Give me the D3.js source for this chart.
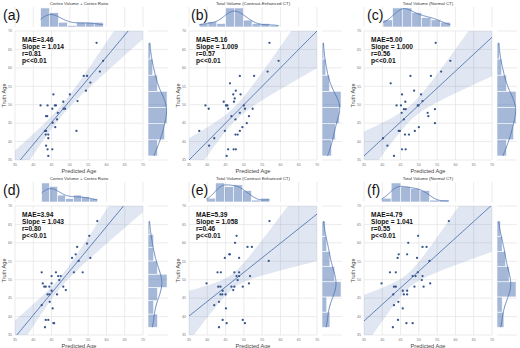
<!DOCTYPE html>
<html>
<head>
<meta charset="utf-8">
<script src="https://cdn.jsdelivr.net/npm/d3@7"></script>
<style>
body { margin: 0; background: #fff; }
svg { display: block; font-family: 'Liberation Sans', Arial, sans-serif; }
</style>
</head>
<body>
<svg></svg>
<script>
var WIDTH = 520;
var HEIGHT = 348;

// predicted age (x) and truth age (y), one pair of arrays per panel
var predA = [57.3,59.1,58.2,53.8,54.7,55.6,54.4,45.5,50.0,48.2,52.1,42.0,43.9,45.9,46.2,45.2,48.3,48.7,46.7,43.5,43.8,46.5,45.3,46.0,43.2,43.5,43.4,44.1,51.8,44.1,43.5,43.9,45.2,44.1];
var truthA = [66.8,61.9,59.0,57.8,57.8,56.0,53.8,52.8,52.8,50.8,51.0,49.8,49.8,49.8,49.8,48.9,48.9,48.9,47.8,46.9,46.9,46.0,45.1,43.9,42.9,42.9,41.9,41.9,42.9,40.9,38.9,37.9,37.9,36.1];

var predB = [57.0,59.5,56.5,48.9,52.8,46.2,47.8,47.1,49.1,47.5,44.5,47.3,39.5,45.1,45.3,45.5,50.0,40.4,45.7,50.3,52.4,48.9,46.6,51.4,47.7,50.8,49.6,37.8,44.8,48.9,47.7,48.3,41.9,40.5,45.7,47.2,47.8,45.3];
var truthB = [66.8,61.9,59.0,57.8,57.8,55.8,53.8,52.8,52.8,51.7,50.8,50.8,49.8,49.8,49.8,49.8,49.8,48.9,48.9,48.9,48.9,47.8,46.9,46.9,46.0,45.0,43.9,42.9,42.9,42.9,41.9,41.9,40.9,38.9,37.9,37.9,37.9,36.1];

var predC = [54.6,58.6,56.1,47.7,53.3,42.3,48.7,45.4,50.6,46.3,51.0,43.9,45.1,45.9,46.4,49.7,49.9,54.4,45.3,52.4,52.6,45.9,54.4,50.0,44.5,44.8,48.9,46.2,47.3,40.2,41.4,45.4,46.4,43.2];
var truthC = [66.8,61.9,59.0,57.8,57.8,55.8,53.8,52.8,52.8,50.8,51.0,49.8,49.8,48.8,48.8,49.8,49.8,48.8,47.8,47.8,46.9,46.0,45.0,43.9,42.9,42.9,42.9,41.9,41.9,40.9,38.9,37.9,37.9,36.1];

var predD = [57.5,55.3,54.7,52.0,51.6,50.6,55.6,52.4,51.1,53.5,42.3,46.2,45.0,46.8,47.5,42.6,43.0,43.4,44.4,45.0,47.1,48.2,48.9,43.9,44.4,46.5,45.0,44.5,42.3,45.3,43.4,44.1,45.5,45.7,43.2];
var truthD = [65.9,61.9,59.8,58.9,56.9,55.9,55.9,55.1,52.0,52.0,52.0,52.0,51.0,51.0,51.0,49.0,48.1,48.1,48.1,49.0,49.9,48.1,47.2,46.0,46.0,46.0,47.0,44.0,43.1,42.2,39.1,39.1,38.2,38.2,37.1];

var predE = [57.0,48.0,47.6,51.0,52.2,46.0,46.2,44.8,48.7,56.8,42.8,43.7,47.4,48.7,48.0,48.7,51.7,48.3,39.8,51.4,43.0,43.6,46.6,47.4,49.7,44.2,43.6,44.1,45.0,47.1,43.2,41.9,45.1,44.2,49.7,45.3,50.3,43.2];
var truthE = [65.9,61.9,60.0,58.9,58.9,56.9,56.9,55.9,55.9,55.1,52.0,52.0,52.0,52.0,51.0,51.0,51.0,49.9,49.0,49.0,48.1,48.1,48.1,48.1,48.1,47.0,46.0,46.0,46.0,47.2,44.0,43.1,42.2,39.1,39.1,38.2,38.2,37.1];

var predF = [58.2,49.8,47.1,51.0,52.1,44.5,46.8,44.2,49.5,52.9,42.1,43.7,49.7,51.0,48.3,49.1,50.8,39.8,53.1,43.2,43.7,48.8,51.3,45.6,46.8,45.9,46.8,43.0,44.4,43.2,45.6,44.3,46.6,48.3,42.9];
var truthF = [65.9,61.9,60.0,58.9,58.9,56.9,56.9,55.9,55.9,55.1,52.0,52.0,52.0,51.0,51.0,51.0,49.9,49.0,49.0,48.1,48.1,48.1,48.1,47.0,47.0,46.0,46.0,46.0,44.0,43.1,42.2,39.1,38.2,38.2,37.1];

// fitted regression line (truth = a + b * predicted)
var fitIntercept = [-8.2, 0.0, 3.9, -7.6, 12.5, 7.3];
var fitSlope = [1.186, 1.0, 0.92, 1.20, 0.79, 0.90];

var panelLabels = ['(a)', '(b)', '(c)', '(d)', '(e)', '(f)'];
var titles = ['Cortex Volume + Cortex Ratio', 'Total Volume (Contrast-Enhanced CT)', 'Total Volume (Normal CT)',
              'Cortex Volume + Cortex Ratio', 'Total Volume (Contrast Enhanced CT)', 'Total Volume (Normal CT)'];
var maes = ['3.46', '5.16', '5.00', '3.94', '5.39', '4.79'];
var slopes = ['1.014', '1.009', '1.000', '1.043', '1.058', '1.041'];
var rs = ['0.81', '0.57', '0.56', '0.80', '0.46', '0.55'];
var ticks = [35, 40, 45, 50, 55, 60, 65, 70];

var preds = [predA, predB, predC, predD, predE, predF];
var truths = [truthA, truthB, truthC, truthD, truthE, truthF];

var COL_X = [15, 189, 364];
var ROW_Y = [31, 206];
var LABEL_X = [3, 191, 367];
var PW = 128, PH = 129;
var BLUE = '#4c72b0';

var svg = d3.select('svg')
    .attr('width', WIDTH)
    .attr('height', HEIGHT);

// numpy 'auto' style bins
function autoBins(values) {
    var s = values.slice().sort(d3.ascending);
    var n = s.length;
    var lo = s[0], hi = s[n - 1];
    var sturges = (hi - lo) / (Math.log2(n) + 1);
    var iqr = d3.quantileSorted(s, 0.75) - d3.quantileSorted(s, 0.25);
    var fd = 2 * iqr * Math.pow(n, -1 / 3);
    var w = fd > 0 ? Math.min(fd, sturges) : sturges;
    var nb = Math.max(1, Math.ceil((hi - lo) / w));
    w = (hi - lo) / nb;
    var bins = d3.range(nb).map(function(k) {
        return {x0: lo + k * w, x1: lo + (k + 1) * w, count: 0};
    });
    values.forEach(function(v) {
        var k = Math.min(nb - 1, Math.floor((v - lo) / w));
        bins[k].count++;
    });
    return bins;
}

// gaussian kde (scott), scaled to counts
function kdeCurve(values, binWidth) {
    var n = values.length;
    var bw = d3.deviation(values) * Math.pow(n, -0.2);
    var lo = d3.min(values), hi = d3.max(values);
    return d3.range(0, 101).map(function(k) {
        var x = lo + (hi - lo) * k / 100;
        var dens = d3.sum(values, function(v) {
            var u = (x - v) / bw;
            return Math.exp(-0.5 * u * u);
        }) / (n * bw * Math.sqrt(2 * Math.PI));
        return [x, dens * n * binWidth];
    });
}

function drawPanel(i) {
    var xs = preds[i], ys = truths[i];
    var ox = COL_X[i % 3], oy = ROW_Y[Math.floor(i / 3)];
    var g = svg.append('g');

    var xScale = d3.scaleLinear().domain([35, 70]).range([ox, ox + PW]);
    var yScale = d3.scaleLinear().domain([35, 70]).range([oy + PH, oy]);

    // grid
    g.selectAll('.vg').data(ticks).enter().append('line')
        .attr('x1', function(d) { return xScale(d); })
        .attr('x2', function(d) { return xScale(d); })
        .attr('y1', oy).attr('y2', oy + PH)
        .attr('stroke', '#e3e3e3').attr('stroke-width', 0.7);
    g.selectAll('.hg').data(ticks).enter().append('line')
        .attr('y1', function(d) { return yScale(d); })
        .attr('y2', function(d) { return yScale(d); })
        .attr('x1', ox).attr('x2', ox + PW)
        .attr('stroke', '#e3e3e3').attr('stroke-width', 0.7);

    // tick labels
    g.selectAll('.xt').data(ticks).enter().append('text')
        .attr('x', function(d) { return xScale(d); })
        .attr('y', oy + PH + 6)
        .attr('text-anchor', 'middle')
        .attr('font-size', 3.6).attr('fill', '#777')
        .text(function(d) { return d; });
    g.selectAll('.yt').data(ticks).enter().append('text')
        .attr('x', ox - 3)
        .attr('y', function(d) { return yScale(d) + 1.3; })
        .attr('text-anchor', 'end')
        .attr('font-size', 3.6).attr('fill', '#777')
        .text(function(d) { return d; });

    // regression line with 95% ci band
    var n = xs.length;
    var a = fitIntercept[i], b = fitSlope[i];
    var mx = d3.mean(xs);
    var sxx = d3.sum(xs, function(v) { return (v - mx) * (v - mx); });
    var sse = d3.sum(xs, function(v, k) { var e = ys[k] - a - b * v; return e * e; });
    var se = Math.sqrt(sse / (n - 2));
    var grid = d3.range(35, 70.01, 0.5).map(function(x) {
        var h = 2.03 * se * Math.sqrt(1 / n + (x - mx) * (x - mx) / sxx);
        var yh = a + b * x;
        return {x: x, y: yh, lo: yh - h, hi: yh + h};
    });

    var clipId = 'clip' + i;
    svg.append('clipPath').attr('id', clipId)
        .append('rect').attr('x', ox).attr('y', oy).attr('width', PW).attr('height', PH);
    var inner = g.append('g').attr('clip-path', 'url(#' + clipId + ')');
    inner.append('path')
        .datum(grid)
        .attr('d', d3.area()
            .x(function(d) { return xScale(d.x); })
            .y0(function(d) { return yScale(d.lo); })
            .y1(function(d) { return yScale(d.hi); }))
        .attr('fill', BLUE).attr('fill-opacity', 0.17);
    inner.append('path')
        .datum(grid)
        .attr('d', d3.line()
            .x(function(d) { return xScale(d.x); })
            .y(function(d) { return yScale(d.y); }))
        .attr('fill', 'none').attr('stroke', BLUE).attr('stroke-width', 0.9);

    inner.selectAll('circle').data(xs).enter().append('circle')
        .attr('cx', function(d) { return xScale(d); })
        .attr('cy', function(d, k) { return yScale(ys[k]); })
        .attr('r', 1.15)
        .attr('fill', '#37568c');

    // stats text
    var lines = ['MAE=' + maes[i], 'Slope = ' + slopes[i], 'r=' + rs[i], 'p<<0.01'];
    g.selectAll('.st').data(lines).enter().append('text')
        .attr('x', ox + 7)
        .attr('y', function(d, k) { return oy + 11 + k * 6.9; })
        .attr('font-size', 6.6).attr('font-weight', 'bold').attr('fill', '#111')
        .text(function(d) { return d; });

    // axis labels
    g.append('text')
        .attr('x', ox + PW / 2).attr('y', oy + PH + 13)
        .attr('text-anchor', 'middle')
        .attr('font-size', 5.6).attr('fill', '#444')
        .text('Predicted Age');
    g.append('text')
        .attr('transform', 'translate(' + (ox - 9) + ',' + (oy + PH / 2) + ') rotate(-90)')
        .attr('text-anchor', 'middle')
        .attr('font-size', 5.6).attr('fill', '#444')
        .text('Truth Age');

    // top marginal histogram
    var topY0 = oy - 24, topH = 20;
    var binsX = autoBins(xs);
    var bwX = binsX[0].x1 - binsX[0].x0;
    var kdeX = kdeCurve(xs, bwX);
    var cMaxX = Math.max(d3.max(binsX, function(d) { return d.count; }), d3.max(kdeX, function(d) { return d[1]; }));
    var hScale = d3.scaleLinear().domain([0, cMaxX * 1.05]).range([topY0 + topH, topY0]);
    g.selectAll('.tg').data(ticks).enter().append('line')
        .attr('x1', function(d) { return xScale(d); })
        .attr('x2', function(d) { return xScale(d); })
        .attr('y1', topY0).attr('y2', topY0 + topH)
        .attr('stroke', '#e3e3e3').attr('stroke-width', 0.7);
    g.selectAll('.tb').data(binsX).enter().append('rect')
        .attr('x', function(d) { return xScale(d.x0); })
        .attr('width', function(d) { return xScale(d.x1) - xScale(d.x0); })
        .attr('y', function(d) { return hScale(d.count); })
        .attr('height', function(d) { return hScale(0) - hScale(d.count); })
        .attr('fill', BLUE).attr('fill-opacity', 0.5)
        .attr('stroke', '#fff').attr('stroke-width', 0.6);
    g.append('path')
        .datum(kdeX)
        .attr('d', d3.line()
            .x(function(d) { return xScale(d[0]); })
            .y(function(d) { return hScale(d[1]); }))
        .attr('fill', 'none').attr('stroke', BLUE).attr('stroke-width', 0.8);

    // right marginal histogram
    var rX0 = ox + PW + 5, rW = 20;
    var binsY = autoBins(ys);
    var bwY = binsY[0].x1 - binsY[0].x0;
    var kdeY = kdeCurve(ys, bwY);
    var cMaxY = Math.max(d3.max(binsY, function(d) { return d.count; }), d3.max(kdeY, function(d) { return d[1]; }));
    var wScale = d3.scaleLinear().domain([0, cMaxY * 1.05]).range([rX0, rX0 + rW]);
    g.selectAll('.rg').data(ticks).enter().append('line')
        .attr('y1', function(d) { return yScale(d); })
        .attr('y2', function(d) { return yScale(d); })
        .attr('x1', rX0).attr('x2', rX0 + rW)
        .attr('stroke', '#e3e3e3').attr('stroke-width', 0.7);
    g.selectAll('.rb').data(binsY).enter().append('rect')
        .attr('y', function(d) { return yScale(d.x1); })
        .attr('height', function(d) { return yScale(d.x0) - yScale(d.x1); })
        .attr('x', rX0)
        .attr('width', function(d) { return wScale(d.count) - rX0; })
        .attr('fill', BLUE).attr('fill-opacity', 0.5)
        .attr('stroke', '#fff').attr('stroke-width', 0.6);
    g.append('path')
        .datum(kdeY)
        .attr('d', d3.line()
            .y(function(d) { return yScale(d[0]); })
            .x(function(d) { return wScale(d[1]); }))
        .attr('fill', 'none').attr('stroke', BLUE).attr('stroke-width', 0.8);

    // title and panel label
    g.append('text')
        .attr('x', ox + PW / 2).attr('y', oy - 26)
        .attr('text-anchor', 'middle')
        .attr('font-size', 4.4).attr('fill', '#333')
        .text(titles[i]);
    g.append('text')
        .attr('x', LABEL_X[i % 3]).attr('y', oy - 11)
        .attr('font-size', 14).attr('fill', '#111')
        .text(panelLabels[i]);
}

for (var i = 0; i < 6; i++) {
    drawPanel(i);
}
</script>
</body>
</html>
